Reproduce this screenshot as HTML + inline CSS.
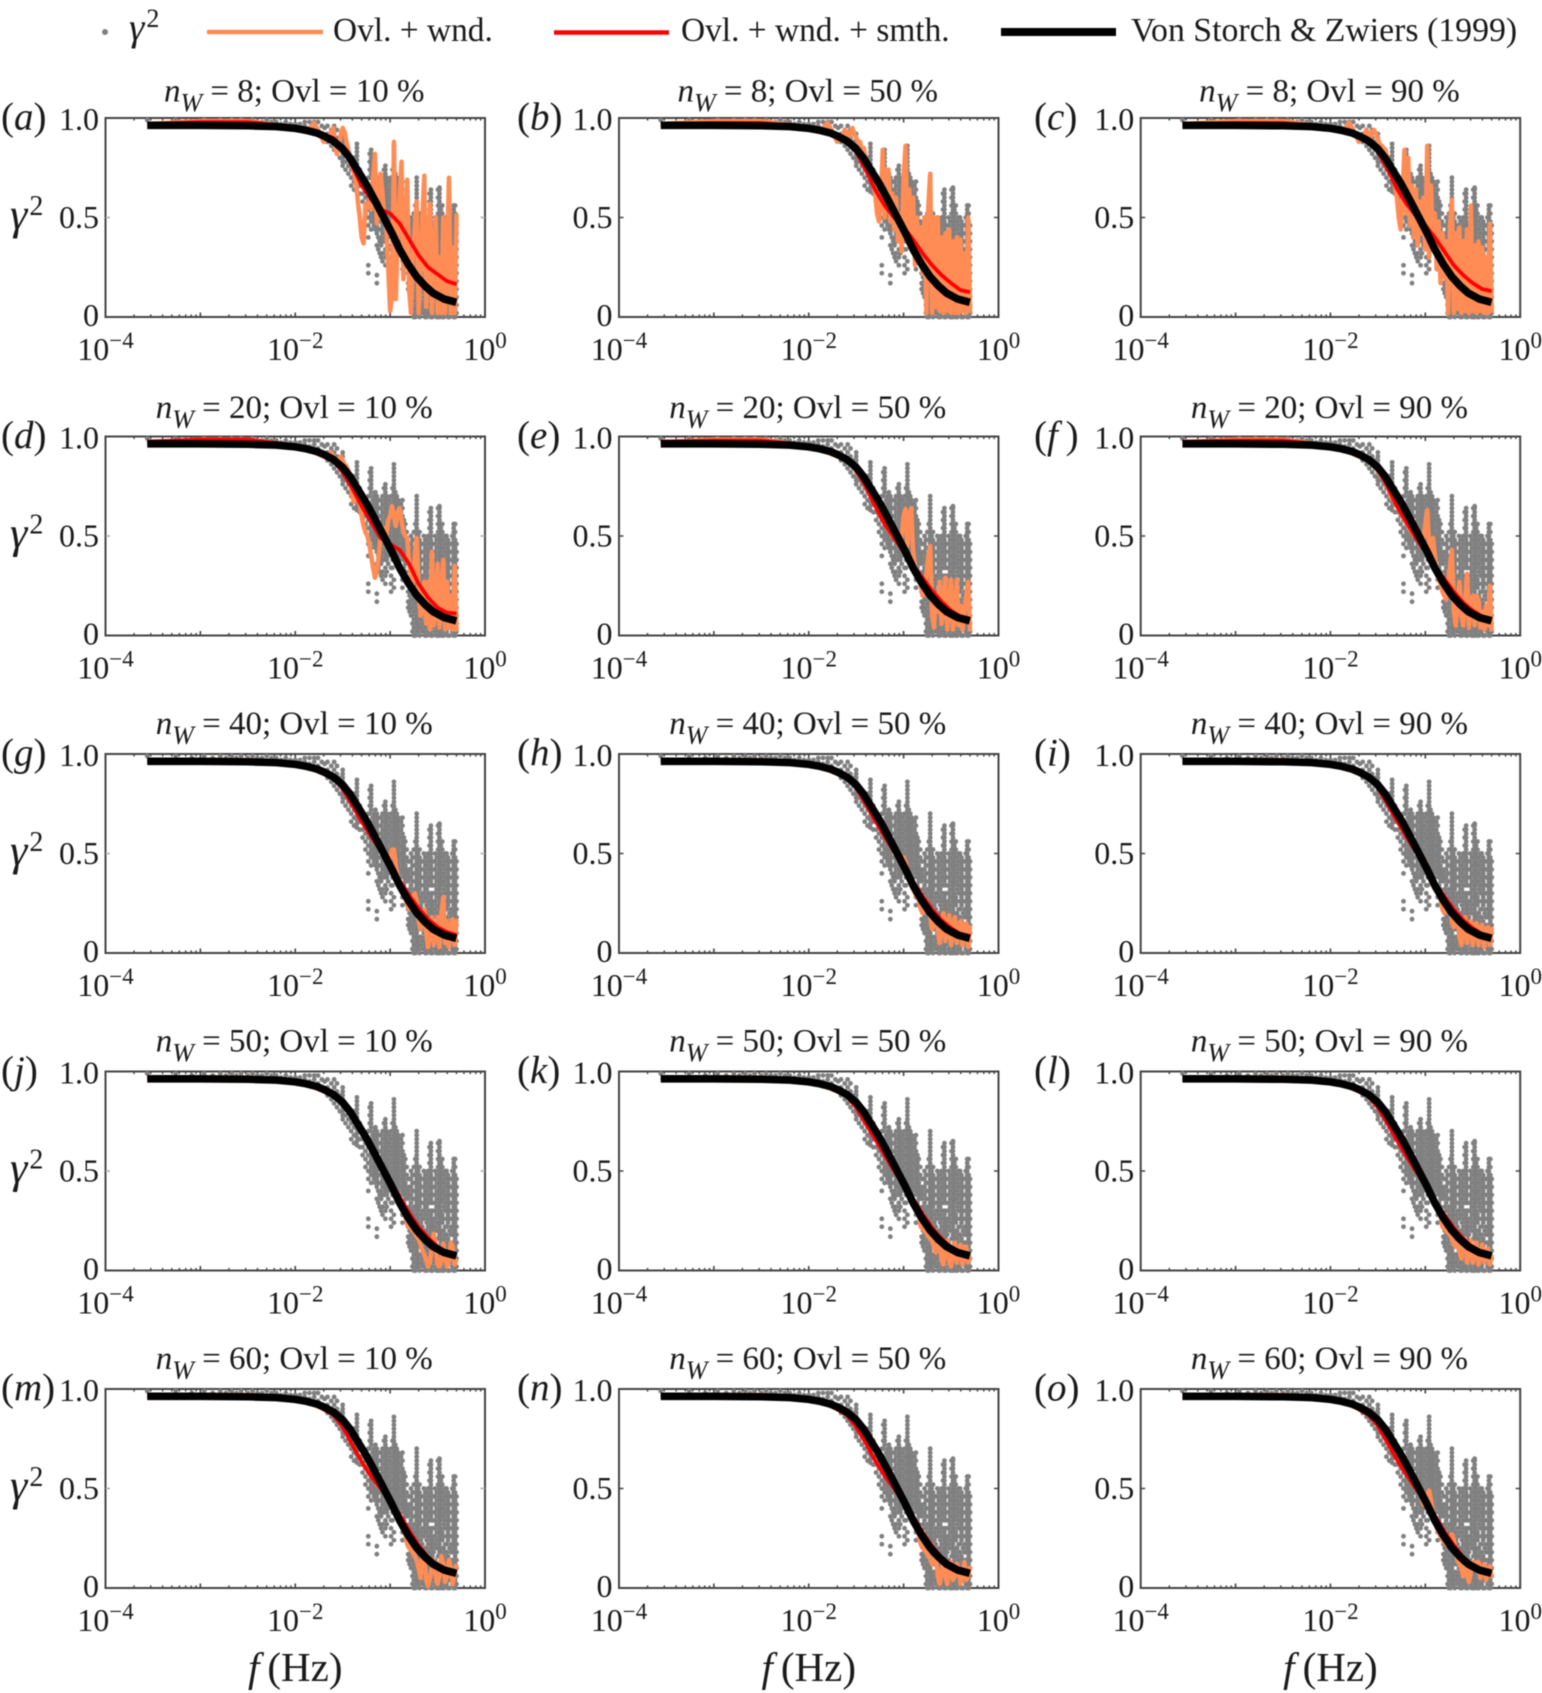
<!DOCTYPE html>
<html lang="en">
<head>
<meta charset="utf-8">
<title>Coherence panels</title>
<style>
html,body{margin:0;padding:0;background:#fff;}
svg{display:block;filter:blur(0.45px);}
text{font-family:"Liberation Serif",serif;fill:#1a1a1a;}
.it{font-style:italic;}
</style>
</head>
<body>
<svg id="chart" xmlns="http://www.w3.org/2000/svg" width="1542" height="1693" viewBox="0 0 1542 1693">
  <rect width="1542" height="1693" fill="#fff"/>
  <g>
    <g>
      <circle cx="105" cy="32" r="3" fill="#808080"/>
      <text x="129" y="40" font-size="39"><tspan class="it">γ</tspan><tspan font-size="26" dx="2" dy="-13">2</tspan></text>
    </g>
    <g>
      <line x1="207" y1="32" x2="323" y2="32" stroke="#ff8c55" stroke-width="4.5"/>
      <text x="333" y="41" font-size="33.4">Ovl. + wnd.</text>
    </g>
    <g>
      <line x1="554" y1="32.500" x2="669" y2="32.500" stroke="#ff0000" stroke-width="4.5"/>
      <text x="681" y="41" font-size="33.4">Ovl. + wnd. + smth.</text>
    </g>
    <g>
      <line x1="1001" y1="32" x2="1116" y2="32" stroke="#000" stroke-width="8"/>
      <text x="1131" y="41" font-size="33.8">Von Storch &amp; Zwiers (1999)</text>
    </g>
  </g>
</svg>
<script>
// ---- Panel categories ----
const panelLetters = ['a','b','c','d','e','f','g','h','i','j','k','l','m','n','o'];
const windowCounts = [8,20,40,50,60];
const overlapPercents = [10,50,90];

// ---- Axis ticks ----
const xDecades = [-4,-3,-2,-1,0];
const xLabelledDecades = [-4,-2,0];
const xMinorMultipliers = [2,3,4,5,6,7,8,9];
const yTickValues = [0,0.5,1];
const yTickLabels = ['0','0.5','1.0'];

// ---- Von Storch & Zwiers curve (log10 f, coherence) ----
const blackLogF = [-3.56,-3,-2.5,-2.2,-2,-1.9,-1.775,-1.7,-1.6,-1.5,-1.425,-1.34,-1.25,-1.16,-1.074,-0.98,-0.898,-0.81,-0.723,-0.63,-0.547,-0.43,-0.302];
const blackCoh = [.963,.963,.961,.957,.948,.94,.925,.91,.885,.845,.80,.735,.665,.585,.506,.42,.338,.265,.204,.155,.12,.09,.074];

// ---- Raw coherence scatter, shared by all panels (percent values per frequency column) ----
const grayLogF = [-3.56,-3.26,-3.09,-2.96,-2.87,-2.79,-2.73,-2.67,-2.62,-2.57,-2.5,-2.45,-2.4,-2.35,-2.3,-2.25,-2.2,-2.15,-2.1,-2.05,-2,-1.95,-1.9,-1.85,-1.8,-1.76,-1.72,-1.69,-1.66,
-1.62,-1.59,-1.56,-1.53,-1.5,-1.47,-1.44,-1.41,-1.38,-1.35,-1.32,-1.29,-1.26,-1.23,-1.2,-1.17,-1.14,-1.11,-1.08,-1.05,-1.02,-0.99,-0.96,-0.93,-0.9,-0.87,-0.84,-0.81,-0.78,-0.75,-0.72,-0.69,-0.66,-0.63,-0.6,-0.57,-0.54,-0.51,-0.48,-0.45,-0.42,-0.39,-0.36,-0.33,-0.3,
-1.35,-1.5,-1.2,-1.215,-1.185,-1.155,-1.125,-1.095,-1.065,-1.05,-1.035,-1.005,-0.975,-0.96,-0.945,-0.915,-0.885,-0.855,-0.825,-0.795,-0.765,-0.735,-0.72,-0.705,-0.675,-0.645,-0.615,-0.585,-0.57,-0.555,-0.525,-0.495,-0.48,-0.465,-0.435,-0.405,-0.375,-0.345,-0.33,-0.315];
const grayCoh = [[99],[99],[98],[99],[98],[99],[98],[99],[98],[99],[98],[99],[98],[98],[99],[98],[98],[97],[98],[97],[97],[97],[96,98],[95,98],[96,98],[94,98],[92,96],[91,95],[88,92,96],
[86,90,94],[84,88,92,96],[82,86,90,94],[80,84,88],[76,80,84,88,92],[74,78,82],[72,76,80],[66,70,74,78],[64,68,72,76,80],[63,67,71,75,79,83,87],[62,66,70,74],[58,62,66],[52,56,60,64],
[22,26,40,46,50,54,58,62,66,70],[44,48,52,56,60,64,72,76,80,84],[46,50,54,58,62,66,70],[17,21,36,42,46,50,54,58,62,66,70],[32,38,44,48,52,56,60,64,68],[28,32,38,42,46,50,54,58,62,66,70],
[26,30,34,40,44,48,52,56,60,64,68,72,76],[36,40,44,48,52,56,60,64,68],[22,26,30,34,42,46,50,54,58,62,66,70],[24,28,44,48,52,56,60,64,68,72,76,80,84,86],[38,42,46,50,54,58,62,66,70],
[34,38,42,46,50,54,58,62,66],[24,28,40,44,48,52,56,60,64,68],[32,36,40,44,48,52,56],[14,17,22,36,40,46],[10,14,18,30,34,38,42,46,50],[0,4,8,12,16,20,24,28,32,36,40,44,48,52],
[2,6,10,14,18,22,26,30,34,38,42,46,50,54,58,62,66,70],[0,4,8,12,16,24,28,32,36,40,44,48,52],[2,6,14,18,22,26,30,34,38,42,46],[0,4,8,12,16,20,28,32,36,40,44,48],[2,10,14,18,22,26,30,34,38,42,46,50],
[0,4,8,16,20,24,28,36,40,44,48,52,56,60,64],[6,10,14,18,22,26,30,34,38,42,46],[0,4,8,12,20,24,28,32,36,40,44,48],[2,6,10,18,22,26,30,34,38,42,46,50,54,58,62,65],[0,4,12,16,20,24,28,36,40,44,48,52,56],
[2,6,10,14,18,22,30,34,38,42,46,50],[0,4,8,12,16,24,28,32,36,40,44,48],[6,10,14,18,22,26,30,34,38,42,46],[0,4,8,12,20,24,28,32,36,40,44,48,52,56],[2,6,10,14,18,22,26,30,34,38,42,46],
[65,69,73,77,81,85],[78,82,86,90],[74,78,82],[50,54,58,62,66,70,74,78,82],[48,52,56,60,64,68],[44,48,52,56,60,64,68,72],[34,40,44,48,52,56,60,64,68],[30,36,40,44,48,52,56,60,64,68],[38,42,46,50,54,58,62,66,70,74],
[42,46,50,54,58,62,66,70,74],[32,38,42,46,50,54,58,62,66,70],[44,48,52,56,60,64,68],[34,38,46,50,54,58,62,66,70,74],[46,50,54,58,62,66,70,74,78,82],[40,44,48,52,56,60,64,68,72],[36,40,44,48,52,56,60,64,68],[42,46,50,54,58,62,66],
[30,34,38,42,46,50,54,58],[38,42,48,52],[12,16,20,32,38,42,46],[2,6,10,14,18,22,26,30,36,40,44,48],[0,4,8,12,16,20,24,28,32,36,40,44,48,52,56],[4,8,12,16,20,24,28,32,36,40,44,48,52,56,60,64,68],[2,6,14,18,22,26,30,34,38,42,46,50],
[4,8,12,16,20,24,28,34,38,42,46],[2,6,10,14,18,26,30,34,38,42,46,50],[0,4,8,12,16,20,24,28,32,36,40,44,48],[2,6,10,14,18,22,26,30,34,38,42,46,50,54,58,62],[2,6,10,14,18,22,26,30,34,38,42,46,50,54,58,62],[0,4,8,12,16,20,24,30,34,38,42,46],
[2,6,10,14,22,26,30,34,38,42,46,50],[0,4,8,12,16,20,24,28,32,36,40,44,48,52,56,60,64],[0,4,8,12,16,20,24,28,32,36,40,44,48,52,56,60,64],[2,6,10,14,18,26,30,34,38,42,46,50,54],[0,4,8,12,16,20,26,32,36,40,44,48],[2,6,10,14,18,22,26,30,34,38,42,46,50],
[0,4,8,14,20,26,30,34,38,42,46],[2,6,10,14,18,22,26,30,34,38,42,46,50],[2,6,10,14,18,22,26,30,34,38,42,46,50,54],[0,4,8,12,16,20,24,28,32,36,40,44,48,52,56]];

// ---- Smoothed spectrum frequencies and per-panel values ----
const redLogF = [-3.56,-3,-2.5,-2,-1.8,-1.6,-1.5,-1.4,-1.3,-1.2,-1.1,-1,-0.9,-0.8,-0.7,-0.6,-0.5,-0.4,-0.3];
const redA = [.97,.98,.98,.955,.93,.90,.85,.76,.66,.59,.54,.52,.47,.39,.31,.25,.215,.18,.165];
const redB = [.97,.975,.975,.955,.93,.89,.83,.74,.64,.56,.5,.45,.39,.32,.26,.21,.17,.135,.125];
const redC = [.97,.975,.975,.955,.93,.89,.83,.745,.645,.57,.51,.46,.40,.33,.26,.21,.17,.14,.13];
const redD = [.975,.985,.985,.955,.925,.88,.82,.74,.65,.57,.49,.46,.43,.36,.26,.19,.14,.115,.11];
const redE = [.975,.98,.98,.955,.93,.89,.83,.75,.65,.56,.49,.42,.35,.29,.225,.17,.125,.095,.085];
const redF = [.975,.98,.98,.955,.93,.89,.835,.75,.65,.57,.49,.42,.35,.285,.22,.165,.125,.095,.085];
const redG = [.97,.97,.965,.95,.925,.88,.825,.745,.66,.585,.515,.44,.365,.29,.225,.17,.13,.105,.09];
const redH = [.97,.97,.965,.95,.925,.885,.83,.75,.665,.585,.51,.435,.36,.285,.22,.165,.125,.095,.085];
const redI = [.97,.97,.965,.95,.925,.885,.83,.75,.665,.585,.51,.43,.355,.285,.22,.165,.125,.095,.08];
const redJ = [.965,.97,.965,.95,.93,.89,.84,.77,.69,.61,.53,.45,.37,.29,.22,.165,.12,.09,.08];
const redK = [.965,.965,.965,.95,.925,.875,.82,.74,.66,.58,.50,.43,.36,.285,.215,.16,.115,.09,.08];
const redL = [.965,.965,.965,.95,.925,.875,.82,.74,.655,.575,.50,.43,.355,.28,.215,.16,.115,.09,.08];
const redM = [.965,.965,.965,.95,.925,.87,.81,.72,.635,.56,.50,.435,.37,.29,.215,.155,.115,.09,.075];
const redN = [.965,.965,.965,.95,.925,.87,.81,.73,.64,.565,.50,.43,.36,.28,.21,.155,.115,.09,.08];
const redO = [.965,.965,.965,.95,.925,.87,.815,.73,.645,.57,.50,.435,.365,.285,.215,.155,.115,.09,.08];

// ---- Windowed spectrum: frequency grid ----
const orangeLogF = [-3.56,-3,-2.5,-2.2,-2,-1.9,-1.85,-1.8,-1.75,-1.7,-1.66,
-1.62,-1.6,-1.58,-1.56,-1.54,-1.52,-1.5,-1.48,-1.46,-1.44,
-1.42,-1.4,-1.38,-1.36,-1.34,-1.32,-1.3,-1.28,-1.26,-1.24,
-1.22,-1.2,-1.18,-1.16,-1.14,-1.12,-1.1,-1.08,-1.06,-1.04,
-1.02,-1,-.98,-.96,-.94,-.92,-.9,-.88,-.86,-.84,
-.82,-.8,-.78,-.76,-.74,-.72,-.7,-.68,-.66,-.64,
-.62,-.6,-.58,-.56,-.54,-.52,-.5,-.48,-.46,-.44,
-.42,-.4,-.38,-.36,-.34,-.32,-.3];
// low-frequency part, one list per window count
const orangeLowRows = [
 [.97,.985,.985,.965,.95,.93,.95,.975,.93,.88,.90],
 [.97,.985,.985,.965,.95,.94,.93,.92,.91,.90,.90],
 [.965,.97,.97,.96,.95,.94,.93,.92,.91,.90,.90],
 [.965,.97,.97,.96,.95,.94,.93,.92,.91,.90,.90],
 [.965,.97,.97,.96,.95,.94,.93,.92,.91,.90,.90]];
// shared start of the high-frequency part for large window counts
const orangeFollow = [.90,.89,.885,.875,.865,.855,.845,.83,.82,.805,.795,.78,.765,.75,.735,.72,.705,.69,.67,.655];
// per-panel high-frequency parts
const orangeA = [.93,.95,.85,.82,.85,.92,.95,.93,.88,.84,
 .80,.76,.72,.68,.58,.50,.40,.37,.57,.55,
 .58,.54,.70,.82,.47,.60,.72,.62,.50,.45,
 .25,.03,.10,.88,.09,.40,.60,.78,.19,.40,
 .69,.14,.02,.30,.45,.58,.02,.20,.50,.71,
 .05,.30,.57,.02,.35,.50,.02,.30,.02,.50,
 .02,.30,.70,.02,.35,.02,.52];
const orangeB = [.94,.93,.90,.92,.95,.92,.90,.88,.88,.84,
 .85,.80,.78,.75,.70,.68,.62,.52,.48,.60,
 .84,.50,.74,.74,.48,.62,.44,.60,.38,.52,
 .33,.70,.86,.40,.64,.34,.60,.26,.50,.28,
 .45,.22,.50,.02,.55,.72,.02,.50,.05,.50,
 .03,.40,.02,.42,.03,.44,.02,.38,.02,.40,
 .02,.39,.03,.32,.02,.50,.02];
const orangeC = [.94,.92,.90,.93,.94,.92,.89,.87,.86,.85,
 .84,.80,.76,.74,.72,.66,.60,.50,.44,.62,
 .84,.52,.80,.46,.66,.40,.64,.36,.58,.42,
 .60,.34,.86,.30,.66,.34,.52,.24,.48,.17,
 .42,.20,.38,.02,.46,.59,.02,.42,.04,.45,
 .02,.38,.03,.44,.02,.56,.03,.36,.02,.38,
 .03,.35,.02,.30,.02,.47,.02];
const orangeD = [.92,.90,.88,.87,.89,.90,.88,.86,.85,.83,
 .78,.70,.67,.74,.72,.66,.60,.55,.52,.50,
 .46,.40,.34,.29,.32,.40,.50,.52,.54,.50,
 .58,.60,.65,.60,.55,.62,.64,.58,.52,.50,
 .49,.36,.30,.26,.40,.49,.22,.10,.12,.27,
 .06,.27,.03,.42,.05,.12,.36,.04,.20,.38,
 .03,.27,.04,.20,.03,.35,.02];
const orangeE = [.90,.89,.88,.87,.855,.84,.825,.81,.80,.785,
 .77,.75,.73,.71,.69,.675,.655,.64,.62,.60,
 .59,.57,.55,.53,.52,.50,.50,.49,.47,.45,
 .50,.60,.635,.45,.60,.64,.42,.35,.30,.28,
 .25,.20,.22,.30,.40,.45,.10,.04,.20,.12,
 .27,.06,.15,.29,.03,.14,.28,.03,.10,.28,
 .05,.15,.03,.12,.20,.27,.02];
const orangeF = [.90,.89,.88,.87,.855,.84,.825,.81,.80,.785,
 .77,.75,.725,.70,.685,.67,.65,.635,.62,.60,
 .585,.565,.55,.53,.52,.50,.51,.49,.47,.45,
 .48,.56,.63,.45,.42,.49,.40,.33,.28,.26,
 .22,.20,.18,.25,.35,.43,.12,.05,.17,.27,
 .10,.05,.18,.31,.04,.16,.20,.05,.20,.18,
 .04,.12,.03,.15,.05,.25,.02];
const orangeG = [.62,.60,.58,.56,.55,.535,.52,.52,.50,.48,
 .46,.47,.52,.52,.44,.38,.34,.32,.30,.28,
 .24,.22,.24,.28,.30,.26,.16,.12,.15,.22,
 .10,.03,.10,.18,.04,.10,.18,.03,.20,.28,
 .05,.16,.03,.12,.17,.04,.17];
const orangeH = [.62,.60,.58,.56,.55,.53,.51,.50,.48,.46,
 .45,.48,.46,.42,.38,.34,.32,.30,.28,.27,
 .22,.20,.22,.26,.24,.18,.12,.15,.20,.12,
 .05,.14,.20,.06,.12,.19,.04,.13,.18,.05,
 .14,.16,.04,.13,.15,.03,.14];
const orangeI = [.62,.60,.58,.565,.55,.53,.515,.50,.48,.46,
 .44,.46,.44,.40,.36,.34,.32,.31,.30,.27,
 .22,.20,.24,.26,.22,.16,.13,.17,.20,.08,
 .04,.12,.18,.05,.12,.16,.04,.14,.15,.04,
 .13,.14,.03,.12,.13,.04,.13];
const orangeJ = [.63,.61,.59,.575,.555,.54,.52,.50,.48,.46,
 .445,.43,.41,.39,.37,.35,.33,.31,.29,.275,
 .23,.22,.21,.20,.19,.17,.16,.13,.10,.08,
 .05,.02,.04,.12,.185,.12,.03,.02,.05,.135,
 .06,.02,.05,.14,.12,.03,.06];
const orangeK = [.625,.61,.59,.57,.55,.535,.515,.495,.475,.46,
 .44,.43,.41,.39,.37,.35,.33,.31,.29,.275,
 .22,.21,.20,.19,.17,.16,.15,.12,.09,.13,
 .16,.05,.03,.11,.15,.05,.02,.10,.14,.04,
 .09,.13,.03,.08,.12,.04,.07];
const orangeL = [.625,.605,.585,.57,.55,.53,.515,.495,.475,.46,
 .44,.43,.41,.39,.37,.35,.33,.31,.29,.275,
 .22,.21,.20,.19,.18,.16,.13,.12,.14,.10,
 .06,.13,.16,.04,.10,.15,.04,.09,.14,.03,
 .08,.13,.04,.09,.11,.03,.08];
const orangeM = [.60,.58,.56,.54,.52,.51,.52,.51,.49,.47,
 .45,.44,.42,.40,.38,.36,.33,.31,.29,.27,
 .22,.20,.19,.18,.16,.14,.10,.05,.176,.15,
 .04,.01,.05,.10,.14,.06,.02,.06,.16,.12,
 .03,.06,.14,.10,.02,.08,.12];
const orangeN = [.61,.59,.57,.55,.535,.52,.515,.50,.48,.46,
 .44,.43,.41,.39,.37,.35,.33,.31,.29,.27,
 .22,.20,.19,.18,.16,.15,.12,.14,.16,.06,
 .02,.08,.14,.06,.02,.10,.13,.04,.06,.12,
 .10,.02,.07,.13,.04,.06,.11];
const orangeO = [.62,.60,.58,.56,.545,.53,.515,.50,.48,.46,
 .42,.44,.47,.49,.44,.38,.34,.30,.28,.26,
 .24,.23,.22,.24,.26,.27,.24,.18,.14,.12,
 .10,.06,.12,.07,.03,.09,.13,.10,.13,.13,
 .05,.10,.12,.04,.09,.11,.05];

const redSeries = [redA,redB,redC,redD,redE,redF,redG,redH,redI,redJ,redK,redL,redM,redN,redO];
const orangeSeries = [orangeA,orangeB,orangeC,orangeD,orangeE,orangeF,
 orangeFollow.concat(orangeG),orangeFollow.concat(orangeH),orangeFollow.concat(orangeI),
 orangeFollow.concat(orangeJ),orangeFollow.concat(orangeK),orangeFollow.concat(orangeL),
 orangeFollow.concat(orangeM),orangeFollow.concat(orangeN),orangeFollow.concat(orangeO)];

// ---- Layout ----
const NS = 'http://www.w3.org/2000/svg';
const root = document.getElementById('chart');
const colLeft = [105.5,619,1140.7];
const rowTop = [118,436.5,754,1071.5,1389];
const letterX = [1,517,1034];
const axW = 379.5, axH = 199;

function mk(tag, attrs, parent){
  const el = document.createElementNS(NS, tag);
  for (const k in attrs) el.setAttribute(k, attrs[k]);
  parent.appendChild(el);
  return el;
}
function span(parent, txt, attrs){
  const t = mk('tspan', attrs || {}, parent);
  t.textContent = txt;
  return t;
}
function pointsOf(xs, ys, sx, sy){
  const out = [];
  for (let i = 0; i < xs.length && i < ys.length; i++) out.push(sx(xs[i]).toFixed(2)+','+sy(ys[i]).toFixed(2));
  return out.join(' ');
}

rowTop.forEach(function(top, r){
  colLeft.forEach(function(left, c){
    const idx = r*3 + c;
    const sx = function(v){ return left + (v + 4) / 4 * axW; };
    const sy = function(v){ return top + (1 - v) * axH; };
    const bottom = top + axH;
    const g = mk('g', {}, root);
    
    

    // frame
    const frame = mk('rect', {x:left,y:top,width:axW,height:axH,fill:'none',stroke:'#444','stroke-width':2}, g);
    
    

    // x ticks
    xDecades.forEach(function(d){
      [bottom, top].forEach(function(edge){
        const dir = edge === bottom ? -1 : 1;
        const tk = mk('line', {x1:sx(d),x2:sx(d),y1:edge,y2:edge+dir*4.5,stroke:'#444','stroke-width':1.6}, g);
        
        
        if (d < 0) xMinorMultipliers.forEach(function(m){
          const lf = d + Math.log10(m);
          const mt = mk('line', {x1:sx(lf),x2:sx(lf),y1:edge,y2:edge+dir*2.6,stroke:'#444','stroke-width':1.4}, g);
          
          
        });
      });
    });
    // y ticks and labels
    yTickValues.forEach(function(v, i){
      const col = c === 0 ? '#aaa' : '#444';
      if (v > 0 && v < 1) {
        const a = mk('line', {x1:left,x2:left+4.5,y1:sy(v),y2:sy(v),stroke:col,'stroke-width':1.5}, g);
        
        
        const b = mk('line', {x1:left+axW,x2:left+axW-4.5,y1:sy(v),y2:sy(v),stroke:col,'stroke-width':1.5}, g);
        
        
      }
      const dy = v === 1 ? 12 : (v === 0 ? 9 : 10.5);
      const lab = mk('text', {x:left-6.5,y:sy(v)+dy,'font-size':32,'text-anchor':'end'}, g);
      lab.textContent = yTickLabels[i];
      
      
    });
    // x labels
    xLabelledDecades.forEach(function(d){
      const lab = mk('text', {x:sx(d),y:bottom+43,'font-size':32,'text-anchor':'middle'}, g);
      span(lab, '10');
      span(lab, d === 0 ? '0' : '\u2212' + Math.abs(d), {'font-size':23,dy:-12});
      
      
    });

    // title
    const title = mk('text', {x:left+axW/2-1,y:top-(r === 0 ? 16.5 : (r === 1 ? 18.5 : 20)),'font-size':33,'text-anchor':'middle'}, g);
    span(title, 'n', {class:'it'});
    span(title, 'W', {class:'it','font-size':26,dy:10});
    span(title, ' = ' + windowCounts[r] + '; Ovl = ' + overlapPercents[c] + ' %', {dy:-10});
    
    

    // panel letter
    const letter = mk('text', {x:letterX[c],y:top+11.5,'font-size':39}, g);
    span(letter, '(');
    span(letter, panelLetters[idx], {class:'it'});
    span(letter, panelLetters[idx] === 'f' ? '\u2009)' : ')');
    
    

    // y-axis title
    if (c === 0) {
      const yt = mk('text', {x:10,y:top+111,'font-size':44}, g);
      span(yt, 'γ', {class:'it'});
      span(yt, '2', {'font-size':28,dx:2,dy:-14});
      
      
    }
    // x-axis title
    if (r === rowTop.length - 1) {
      const xt = mk('text', {x:left+axW/2,y:1681,'font-size':41,'text-anchor':'middle'}, g);
      span(xt, 'f', {class:'it'});
      span(xt, '(Hz)', {dx:8});
      
      
    }

    // gray scatter
    const scatter = mk('g', {fill:'#808080'}, g);
    
    
    grayLogF.forEach(function(lf, i){
      grayCoh[i].forEach(function(p){
        const dot = mk('circle', {cx:sx(lf).toFixed(2),cy:sy(p/100).toFixed(2),r:2.4}, scatter);
        
        
      });
    });

    // orange
    const orangeVals = orangeLowRows[r].concat(orangeSeries[idx]);
    const orange = mk('polyline', {points:pointsOf(orangeLogF, orangeVals, sx, sy),fill:'none',stroke:'#ff8c55','stroke-width':4.5,'stroke-linejoin':'round'}, g);
    
    

    // red
    const red = mk('polyline', {points:pointsOf(redLogF, redSeries[idx], sx, sy),fill:'none',stroke:'#ff0000','stroke-width':3.8,'stroke-linejoin':'round'}, g);
    
    

    // black
    const black = mk('polyline', {points:pointsOf(blackLogF, blackCoh, sx, sy),fill:'none',stroke:'#000','stroke-width':7.6,'stroke-linejoin':'round'}, g);
    
    
  });
});
</script>
</body>
</html>
